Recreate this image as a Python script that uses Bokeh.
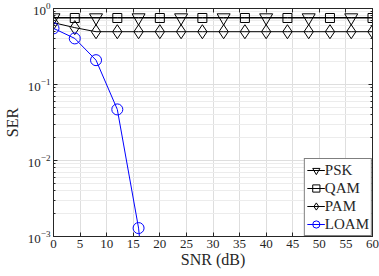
from bokeh.plotting import figure
from bokeh.models import (Range1d, FixedTicker, LinearAxis, LogAxis, Legend,
                          CustomJSTickFormatter)
from bokeh.embed import file_html
from bokeh.resources import INLINE

# ---- data -------------------------------------------------------------
snr = [0, 4, 8, 12, 16, 20, 24, 28, 32, 36, 40, 44, 48, 52, 56, 60]
psk = [0.76, 0.76, 0.76, 0.76, 0.76, 0.76, 0.76, 0.76,
       0.76, 0.76, 0.76, 0.76, 0.76, 0.76, 0.76, 0.76]
qam = [0.75, 0.75, 0.75, 0.75, 0.75, 0.75, 0.75, 0.75,
       0.75, 0.75, 0.75, 0.75, 0.75, 0.75, 0.75, 0.75]
pam = [0.65, 0.56, 0.495, 0.495, 0.495, 0.495, 0.495, 0.495,
       0.495, 0.495, 0.495, 0.495, 0.495, 0.495, 0.495, 0.495]
loam_snr = [0, 4, 8, 12, 16, 20]
loam = [0.548, 0.404, 0.209, 0.047, 0.00129, 0.000002]

x_ticks = [0, 5, 10, 15, 20, 25, 30, 35, 40, 45, 50, 55, 60]
y_ticks = [0.001, 0.01, 0.1, 1]
y_minor = [0.002, 0.003, 0.004, 0.005, 0.006, 0.007, 0.008, 0.009,
           0.02, 0.03, 0.04, 0.05, 0.06, 0.07, 0.08, 0.09,
           0.2, 0.3, 0.4, 0.5, 0.6, 0.7, 0.8, 0.9]
y_tick_labels = {"0.001": "10\u207b\u00b3", "0.01": "10\u207b\u00b2",
                 "0.1": "10\u207b\u00b9", "1": "10\u2070"}

SERIF = "'Liberation Serif', 'DejaVu Serif', serif"
AX = "#262626"

p = figure(width=379, height=276, output_backend="svg", toolbar_location=None,
           y_axis_type="log", x_range=Range1d(0, 60), y_range=Range1d(0.001, 1),
           min_border_left=52, min_border_right=7, min_border_top=8,
           min_border_bottom=40)
p.outline_line_color = AX
p.outline_line_width = 1

# ---- axes -------------------------------------------------------------
xt = FixedTicker(ticks=x_ticks, minor_ticks=[])
yt = FixedTicker(ticks=y_ticks, minor_ticks=y_minor)

xa = p.xaxis[0]
xa.ticker = xt
ya = p.yaxis[0]
ya.ticker = yt
ya.major_label_overrides = y_tick_labels

for ax in (xa, ya):
    ax.axis_line_color = AX
    ax.major_tick_line_color = AX
    ax.minor_tick_line_color = AX
    ax.major_tick_in = 4
    ax.major_tick_out = 0
    ax.minor_tick_in = 2
    ax.minor_tick_out = 0
    ax.major_label_text_font = SERIF
    ax.major_label_text_font_size = "13px"
    ax.major_label_text_color = AX
    ax.major_label_standoff = 3
    ax.axis_label_text_font = SERIF
    ax.axis_label_text_font_size = "16px"
    ax.axis_label_text_font_style = "normal"
    ax.axis_label_text_color = AX
    ax.axis_label_standoff = 2

xa.axis_label = "SNR (dB)"
xa.axis_label_standoff = 0
ya.axis_label = "SER"
ya.axis_label_standoff = 4

empty = CustomJSTickFormatter(code="return ''")
top = LinearAxis(ticker=xt, formatter=empty, major_tick_in=4, major_tick_out=0,
                 major_label_standoff=0, axis_line_color=AX,
                 major_tick_line_color=AX, major_label_text_font_size="1px")
right = LogAxis(ticker=yt, formatter=empty, major_tick_in=4, major_tick_out=0,
                minor_tick_in=2, minor_tick_out=0, major_label_standoff=0,
                axis_line_color=AX, major_tick_line_color=AX,
                minor_tick_line_color=AX, major_label_text_font_size="1px")
p.add_layout(top, "above")
p.add_layout(right, "right")

# ---- grid -------------------------------------------------------------
p.xgrid.ticker = xt
p.ygrid.ticker = yt
p.xgrid.grid_line_color = "#dedede"
p.ygrid.grid_line_color = "#dedede"
p.ygrid.minor_grid_line_color = "#ececec"

# ---- series -----------------------------------------------------------
K = "black"
r1 = p.line(snr, psk, line_color=K, line_width=1)
r1m = p.scatter(snr[::2], psk[::2], marker="inverted_triangle", size=13,
                line_color=K, fill_color=None, line_width=1)
r2 = p.line(snr, qam, line_color=K, line_width=1)
r2m = p.scatter(snr[1::2], qam[1::2], marker="square", size=9,
                line_color=K, fill_color=None, line_width=1)
r3 = p.line(snr, pam, line_color=K, line_width=1)
r3m = p.scatter(snr, pam, marker="diamond", size=14,
                line_color=K, fill_color=None, line_width=1)
r4 = p.line(loam_snr, loam, line_color="#0000ff", line_width=1)
r4m = p.scatter(loam_snr, loam, marker="circle", size=11,
                line_color="#0000ff", fill_color=None, line_width=1)

legend = Legend(items=[("PSK", [r1, r1m]), ("QAM", [r2, r2m]),
                       ("PAM", [r3, r3m]), ("LOAM", [r4, r4m])],
                location="bottom_right", margin=0, padding=2, spacing=0,
                glyph_width=18, glyph_height=18, label_height=18,
                label_standoff=0, border_line_color=K, border_line_width=1,
                label_text_font=SERIF, label_text_font_size="15px",
                label_text_color=AX, background_fill_alpha=1)
p.add_layout(legend, "center")

open("out.html", "w").write(file_html(p, INLINE))
